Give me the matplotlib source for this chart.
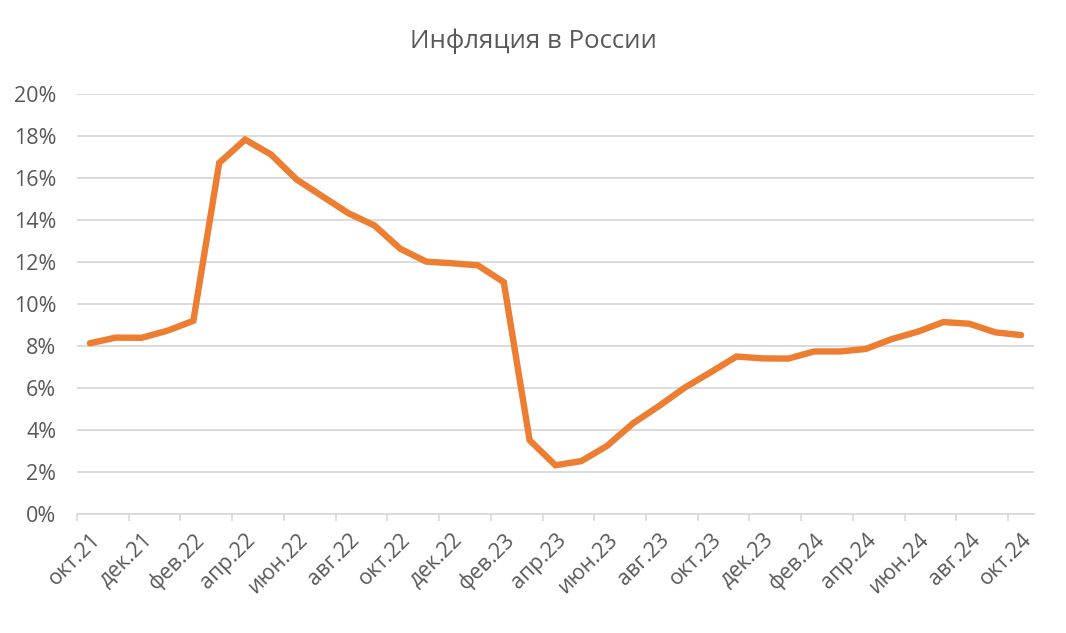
import numpy as np
import matplotlib
matplotlib.use('Agg')
import matplotlib.pyplot as plt
from matplotlib.ticker import FixedLocator, FuncFormatter

#%%
# monthly inflation, oct.21 .. oct.24
month_names = ['янв', 'фев', 'мар', 'апр', 'май', 'июн', 'июл', 'авг', 'сен', 'окт', 'ноя', 'дек']
labels = []
for i in range(37):
    m = (9 + i) % 12
    yr = 21 + (9 + i) // 12
    labels.append(month_names[m] + '.' + str(yr))

inflation = [8.13, 8.40, 8.39, 8.73, 9.20, 16.72, 17.83, 17.12, 15.92, 15.12, 14.32, 13.74,
             12.63, 12.02, 11.94, 11.84, 11.04, 3.51, 2.32, 2.52, 3.25, 4.32, 5.14, 6.02,
             6.75, 7.50, 7.41, 7.40, 7.74, 7.74, 7.86, 8.33, 8.68, 9.14, 9.06, 8.65, 8.52]

#%%
plt.rcParams['font.family'] = ['Open Sans', 'DejaVu Sans']
text_col = '#595959'
grid_col = '#D9D9D9'

fig = plt.figure(figsize=(10.66, 6.33), dpi=100)
ax = fig.add_axes([0.0722, 0.188, 0.8978, 0.6635])

x = np.arange(len(inflation))
ax.plot(x, inflation, color='#ED7D31', lw=4.6, solid_joinstyle='miter', solid_capstyle='round', zorder=3)

ax.set_xlim(-0.5, len(inflation) - 0.5)
ax.set_ylim(0, 20)
ax.set_yticks(np.arange(0, 21, 2))
ax.yaxis.set_major_formatter(FuncFormatter(lambda v, p: '%d%%' % v))
ax.grid(axis='y', color=grid_col, lw=1.3)
ax.set_axisbelow(True)

ax.xaxis.set_major_locator(FixedLocator(x[::2]))
ax.set_xticklabels(labels[::2])
ax.xaxis.set_minor_locator(FixedLocator(np.arange(-0.5, len(inflation) - 1, 2)))
ax.tick_params(axis='x', which='major', length=0, pad=11, labelsize=15.5, labelcolor=text_col)
ax.tick_params(axis='x', which='minor', length=5, width=1.2, color=grid_col)
ax.tick_params(axis='y', length=0, pad=15, labelsize=15.5, labelcolor=text_col)
for lab in ax.get_xticklabels():
    lab.set_rotation(45)
    lab.set_ha('right')
    lab.set_va('top')
    lab.set_rotation_mode('anchor')

for s in ['top', 'right', 'left']:
    ax.spines[s].set_visible(False)
ax.spines['bottom'].set_color(grid_col)
ax.spines['bottom'].set_linewidth(1.3)

fig.text(0.5, 0.935, 'Инфляция в России', ha='center', va='center', fontsize=18.5, color=text_col)

plt.savefig('out.png', dpi=100)
